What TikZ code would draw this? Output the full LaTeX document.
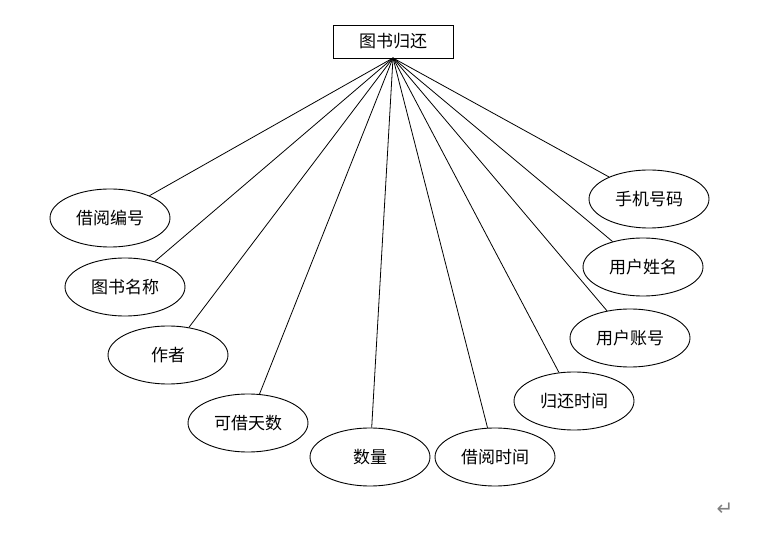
\documentclass[tikz,border=0pt]{standalone}
\usepackage{fontspec}
\newfontfamily\cjk{Noto Sans CJK SC}
\newfontfamily\dejavu{DejaVu Sans}
\usetikzlibrary{shapes.geometric}
\begin{document}
\begin{tikzpicture}[x=1pt,y=-1pt,
  attr/.style={draw=black,line width=0.9pt,ellipse,minimum width=120pt,minimum height=58pt,inner sep=0pt,font=\cjk\fontsize{17}{19}\selectfont},
  entity/.style={draw=black,line width=0.9pt,rectangle,minimum width=120pt,minimum height=33pt,inner sep=0pt,font=\cjk\fontsize{17}{19}\selectfont},
  link/.style={draw=black,line width=0.8pt}]
\useasboundingbox[fill=white] (0,0) rectangle (761,534);
\node[entity] (top) at (393,41.5) {图书归还};
\coordinate (hub) at (393,58);
\node[attr] (a1) at (110,218) {借阅编号};
\node[attr] (a2) at (125,287) {图书名称};
\node[attr] (a3) at (168,355) {作者};
\node[attr] (a4) at (248,423) {可借天数};
\node[attr] (a5) at (370,457) {数量};
\node[attr] (a6) at (495,457) {借阅时间};
\node[attr] (a7) at (574,401) {归还时间};
\node[attr] (a8) at (630,338) {用户账号};
\node[attr] (a9) at (643,267) {用户姓名};
\node[attr] (a10) at (649,199) {手机号码};
\foreach \n in {a1,a2,a3,a4,a5,a6,a7,a8,a9,a10}{
  \draw[link] (hub) -- (\n);
}
\node[text=gray,font=\dejavu\fontsize{20}{22}\selectfont,inner sep=0pt] (ret) at (725,509) {↵};
\end{tikzpicture}
\end{document}
